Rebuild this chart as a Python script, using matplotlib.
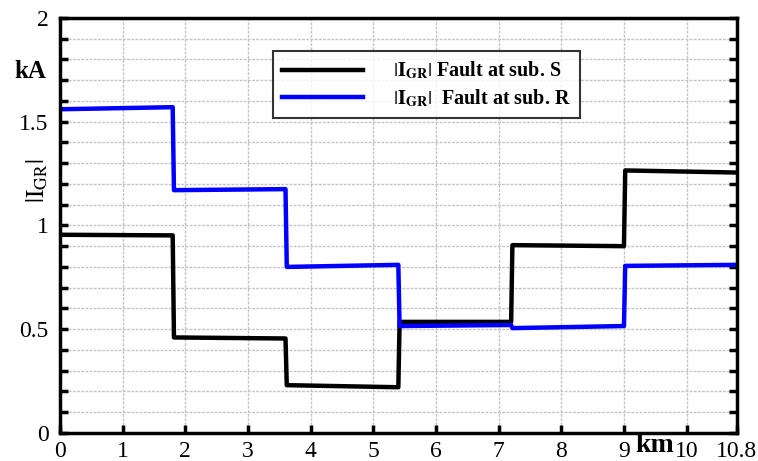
import numpy as np
import matplotlib
matplotlib.use('Agg')
import matplotlib.pyplot as plt

plt.rcParams['font.family'] = ['Liberation Serif', 'DejaVu Serif']
plt.rcParams['mathtext.fontset'] = 'stix'

# segment boundaries (km) and start/end values (kA) of each step
seg_start = [0.0, 1.82, 3.62, 5.42, 7.22, 9.02]
seg_end = [1.8, 3.6, 5.4, 7.2, 9.0, 10.8]
s_start = [0.955, 0.46, 0.23, 0.535, 0.905, 1.265]
s_end = [0.952, 0.455, 0.22, 0.535, 0.90, 1.255]
r_start = [1.56, 1.17, 0.80, 0.515, 0.505, 0.805]
r_end = [1.57, 1.175, 0.81, 0.52, 0.515, 0.81]

xticks = [0, 1, 2, 3, 4, 5, 6, 7, 8, 9, 10, 10.8]
xticklabels = ['0', '1', '2', '3', '4', '5', '6', '7', '8', '9', '10', '10.8']


def build(starts, ends, v0, v1):
    xs, ys = [], []
    for a, b, p, q in zip(starts, ends, v0, v1):
        xs += [a, b]
        ys += [p, q]
    return xs, ys


fig = plt.figure(figsize=(7.58, 4.61), dpi=100)
ax = fig.add_axes([0.079, 0.061, 0.893, 0.9])

xs, ys = build(seg_start, seg_end, s_start, s_end)
ax.plot(xs, ys, color='black', lw=3.2,
        label=r'$|\mathbf{I}_{\mathbf{GR}}|$ Fault at sub. S')
xr, yr = build(seg_start, seg_end, r_start, r_end)
ax.plot(xr, yr, color='#0000ff', lw=3.2,
        label=r'$|\mathbf{I}_{\mathbf{GR}}|$  Fault at sub. R')

ax.set_xlim(0, 10.8)
ax.set_ylim(0, 2)
ax.set_xticks(xticks)
ax.set_xticklabels(xticklabels)
ax.set_yticks([0, 0.5, 1, 1.5, 2])
ax.set_yticklabels(['0', '0.5', '1', '1.5', '2'])
ax.set_yticks(np.arange(0, 2.01, 0.1), minor=True)

ax.grid(True, which='both', color='#c4c4c4', ls=(0, (2, 1)), lw=1.0)
ax.tick_params(axis='both', which='both', direction='in', labelsize=17,
               width=2.5, length=6, right=True)
ax.tick_params(axis='x', pad=5.5)
ax.tick_params(axis='y', pad=8)
for sp in ax.spines.values():
    sp.set_linewidth(2.5)

leg = ax.legend(loc='upper left', bbox_to_anchor=(0.3, 0.945),
                frameon=True, fancybox=False, edgecolor='black',
                prop={'weight': 'bold', 'size': 14.5}, handlelength=4.0,
                borderpad=0.45, handletextpad=1.5, labelspacing=0.3)
leg.get_frame().set_linewidth(1.5)

fig.text(0.04, 0.845, 'kA', fontsize=18, fontweight='bold', ha='center', va='center')
fig.text(0.049, 0.607, r'$|\mathrm{I}_{\mathrm{GR}}|$', fontsize=18,
         rotation=90, ha='center', va='center')
fig.text(0.864, 0.034, 'km', fontsize=20, fontweight='bold', ha='center', va='center')

fig.savefig('out.png', dpi=100)
